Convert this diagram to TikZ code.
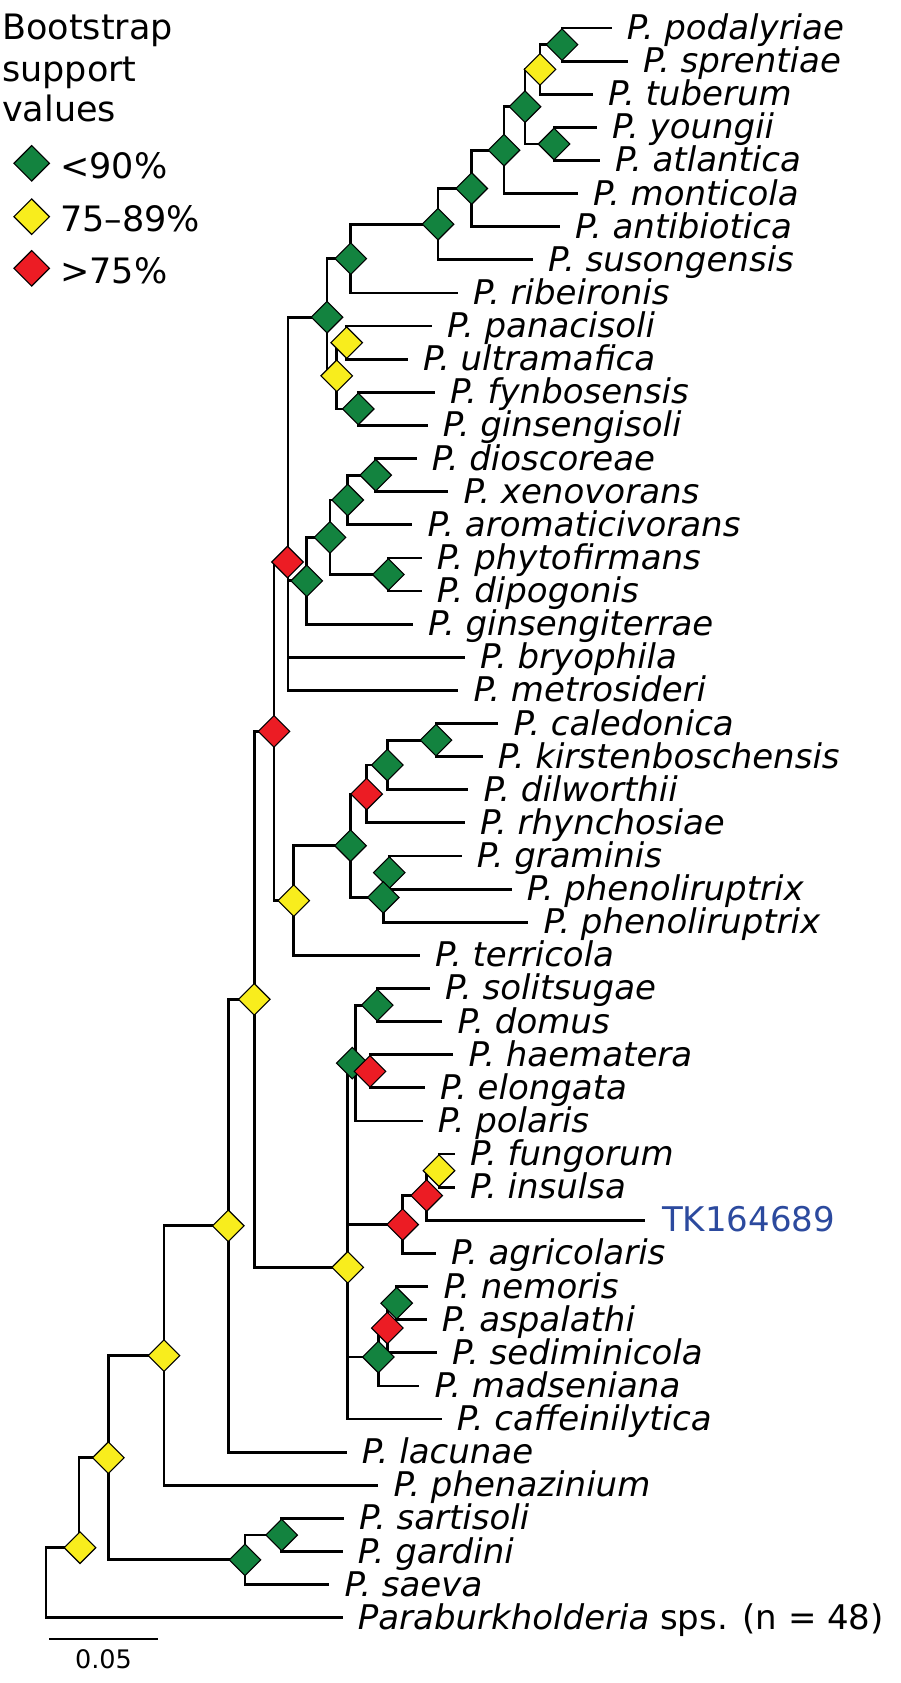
\documentclass[tikz,border=0pt]{standalone}
\usepackage{fontspec}
\setmainfont{DejaVu Sans}
\usetikzlibrary{shapes.geometric}
\definecolor{bsgreen}{RGB}{19,131,63}
\definecolor{bsyellow}{RGB}{248,237,29}
\definecolor{bsred}{RGB}{236,28,36}
\definecolor{tkblue}{RGB}{44,74,158}
\begin{document}
\begin{tikzpicture}[x=1pt,y=-1pt,
  branch/.style={line width=2.8pt, line join=miter},
  bs/.style={shape=diamond, draw=black, line width=1.1pt, inner sep=0pt, minimum width=32pt, minimum height=32pt},
  bsl/.style={shape=diamond, draw=black, line width=1.1pt, inner sep=0pt, minimum width=36pt, minimum height=36pt},
  leaflabel/.style={anchor=base west, inner sep=0pt, xshift=15pt, yshift=-11.5pt, font=\fontsize{34}{36}\selectfont\itshape},
  legtext/.style={anchor=base west, inner sep=0pt, font=\fontsize{35}{41}\selectfont}]
\useasboundingbox (0,0) rectangle (900,1683);

% leaves: index / end x / name
\foreach \i/\xe/\nm in {1/611.7/podalyriae, 2/628/sprentiae, 3/593/tuberum, 4/597/youngii, 5/600/atlantica,
  6/578/monticola, 7/560/antibiotica, 8/533/susongensis, 9/458/ribeironis, 10/432/panacisoli,
  11/408/ultramafica, 12/435/fynbosensis, 13/427.7/ginsengisoli, 14/416.7/dioscoreae, 15/448.3/xenovorans,
  16/412.3/aromaticivorans, 17/421.7/phytofirmans, 18/421.7/dipogonis, 19/413/ginsengiterrae, 20/465/bryophila,
  21/458.3/metrosideri, 22/498.3/caledonica, 23/482.7/kirstenboschensis, 24/468.3/dilworthii, 25/465/rhynchosiae,
  26/461.7/graminis, 27/511.7/phenoliruptrix, 28/528.3/phenoliruptrix, 29/420/terricola, 30/430/solitsugae,
  31/442.3/domus, 32/453.3/haematera, 33/425/elongata, 34/422.7/polaris, 35/455/fungorum,
  36/455/insulsa, 38/436/agricolaris, 39/428.3/nemoris, 40/426.7/aspalathi,
  41/437/sediminicola, 42/419.3/madseniana, 43/441.7/caffeinilytica, 44/346.7/lacunae, 45/378.3/phenazinium,
  46/344/sartisoli, 47/342.7/gardini, 48/329.3/saeva}{
  \pgfmathsetmacro\yy{28+(\i-1)*33.12}
  \coordinate (L\i) at (\xe,\yy);
  \node[leaflabel] (t\i) at (L\i) {P. \nm};
}
\coordinate (L37) at (645,1220.3);
\node[leaflabel, font=\fontsize{34}{36}\selectfont, text=tkblue, xshift=2pt] (t37) at (L37) {TK164689};
\coordinate (L49) at (342.7,1617.8);
\node[leaflabel, font=\fontsize{34}{36}\selectfont] (t49) at (L49) {\textit{Paraburkholderia} sps. (n = 48)};

% internal nodes
\coordinate (a1) at (562,44.6);
\coordinate (a2) at (540,69.4);
\coordinate (a3) at (554,144.0);
\coordinate (a4) at (525,106.7);
\coordinate (a5) at (504,150.2);
\coordinate (a6) at (471.7,188.5);
\coordinate (a7) at (438,224.2);
\coordinate (a8) at (350.7,258.6);
\coordinate (b1) at (346.7,342.7);
\coordinate (b2) at (358.3,408.9);
\coordinate (b3) at (336.7,375.8);
\coordinate (a9) at (327,317.2);
\coordinate (c1) at (375.7,475.2);
\coordinate (c2) at (347.7,500.0);
\coordinate (c3) at (388.3,574.5);
\coordinate (c4) at (330,537.3);
\coordinate (c5) at (306.7,580.8);
\coordinate (d) at (288,562);
\coordinate (e1) at (436,740.1);
\coordinate (e2) at (387.3,765.0);
\coordinate (e3) at (366.7,794.0);
\coordinate (e4) at (389.3,872.6);
\coordinate (e5) at (383.3,897.4);
\coordinate (e6) at (350.5,845.7);
\coordinate (e7) at (293.8,900.6);
\coordinate (f) at (274,731.3);
\coordinate (g1) at (377.3,1005.1);
\coordinate (g2) at (370,1071.3);
\coordinate (g3) at (355.7,1063.1);
\coordinate (h1) at (439,1170.7);
\coordinate (h2) at (426.7,1195.5);
\coordinate (h3) at (402.7,1224.5);
\coordinate (i1) at (396.7,1303.2);
\coordinate (i2) at (387.3,1328.0);
\coordinate (i3) at (378.3,1357.0);
\coordinate (j) at (347.7,1267.3);
\coordinate (k) at (254.3,999.3);
\coordinate (l) at (228.3,1225.8);
\coordinate (m) at (164,1355.6);
\coordinate (n1) at (281.7,1535.0);
\coordinate (n2) at (245,1559.8);
\coordinate (o) at (108.3,1457.7);
\coordinate (p) at (79,1547.7);
\coordinate (root) at (46,1582.8);

% branches
\draw[branch] (a1) |- (L1) (a1) |- (L2)
  (a2) |- (a1) (a2) |- (L3)
  (a3) |- (L4) (a3) |- (L5)
  (a4) |- (a2) (a4) |- (a3)
  (a5) |- (a4) (a5) |- (L6)
  (a6) |- (a5) (a6) |- (L7)
  (a7) |- (a6) (a7) |- (L8)
  (a8) |- (a7) (a8) |- (L9)
  (b1) |- (L10) (b1) |- (L11)
  (b2) |- (L12) (b2) |- (L13)
  (b3) |- (b1) (b3) |- (b2)
  (a9) |- (a8) (a9) |- (b3)
  (c1) |- (L14) (c1) |- (L15)
  (c2) |- (c1) (c2) |- (L16)
  (c3) |- (L17) (c3) |- (L18)
  (c4) |- (c2) (c4) |- (c3)
  (c5) |- (c4) (c5) |- (L19)
  (d) |- (a9) (d) |- (c5) (d) |- (L20) (d) |- (L21)
  (e1) |- (L22) (e1) |- (L23)
  (e2) |- (e1) (e2) |- (L24)
  (e3) |- (e2) (e3) |- (L25)
  (e4) |- (L26) (e4) |- (L27)
  (e5) |- (e4) (e5) |- (L28)
  (e6) |- (e3) (e6) |- (e5)
  (e7) |- (e6) (e7) |- (L29)
  (f) |- (d) (f) |- (e7)
  (g1) |- (L30) (g1) |- (L31)
  (g2) |- (L32) (g2) |- (L33)
  (g3) |- (g1) (g3) |- (g2) (g3) |- (L34)
  (h1) |- (L35) (h1) |- (L36)
  (h2) |- (h1) (h2) |- (L37)
  (h3) |- (h2) (h3) |- (L38)
  (i1) |- (L39) (i1) |- (L40)
  (i2) |- (i1) (i2) |- (L41)
  (i3) |- (i2) (i3) |- (L42)
  (j) |- (g3) (j) |- (h3) (j) |- (i3) (j) |- (L43)
  (k) |- (f) (k) |- (j)
  (l) |- (k) (l) |- (L44)
  (m) |- (l) (m) |- (L45)
  (n1) |- (L46) (n1) |- (L47)
  (n2) |- (n1) (n2) |- (L48)
  (o) |- (m) (o) |- (n2)
  (p) |- (o)
  (root) |- (p) (root) |- (L49);

% support diamonds (top to bottom)
\node[bs, fill=bsgreen] (da1) at (a1) {};
\node[bs, fill=bsyellow] (da2) at (a2) {};
\node[bs, fill=bsgreen] (da4) at (a4) {};
\node[bs, fill=bsgreen] (da3) at (a3) {};
\node[bs, fill=bsgreen] (da5) at (a5) {};
\node[bs, fill=bsgreen] (da6) at (a6) {};
\node[bs, fill=bsgreen] (da7) at (a7) {};
\node[bs, fill=bsgreen] (da8) at (a8) {};
\node[bs, fill=bsgreen] (da9) at (a9) {};
\node[bs, fill=bsyellow] (db1) at (b1) {};
\node[bs, fill=bsyellow] (db3) at (b3) {};
\node[bs, fill=bsgreen] (db2) at (b2) {};
\node[bs, fill=bsgreen] (dc1) at (c1) {};
\node[bs, fill=bsgreen] (dc2) at (c2) {};
\node[bs, fill=bsgreen] (dc4) at (c4) {};
\node[bs, fill=bsred] (dd) at ([xshift=-0.5pt]d) {};
\node[bs, fill=bsgreen] (dc3) at (c3) {};
\node[bs, fill=bsgreen] (dc5) at (c5) {};
\node[bs, fill=bsred] (df) at (f) {};
\node[bs, fill=bsgreen] (de1) at (e1) {};
\node[bs, fill=bsgreen] (de2) at (e2) {};
\node[bs, fill=bsred] (de3) at (e3) {};
\node[bs, fill=bsgreen] (de6) at (e6) {};
\node[bs, fill=bsgreen] (de4) at (e4) {};
\node[bs, fill=bsgreen] (de5) at (e5) {};
\node[bs, fill=bsyellow] (de7) at (e7) {};
\node[bs, fill=bsyellow] (dk) at (k) {};
\node[bs, fill=bsgreen] (dg1) at (g1) {};
\node[bs, fill=bsgreen] (dg3) at ([xshift=-3.5pt]g3) {};
\node[bs, fill=bsred] (dg2) at (g2) {};
\node[bs, fill=bsyellow] (dh1) at (h1) {};
\node[bs, fill=bsred] (dh2) at (h2) {};
\node[bs, fill=bsred] (dh3) at (h3) {};
\node[bs, fill=bsyellow] (dl) at (l) {};
\node[bs, fill=bsyellow] (dj) at (j) {};
\node[bs, fill=bsgreen] (di1) at (i1) {};
\node[bs, fill=bsred] (di2) at (i2) {};
\node[bs, fill=bsgreen] (di3) at (i3) {};
\node[bs, fill=bsyellow] (dm) at (m) {};
\node[bs, fill=bsyellow] (do) at (o) {};
\node[bs, fill=bsgreen] (dn1) at (n1) {};
\node[bs, fill=bsyellow] (dp) at ([xshift=1pt]p) {};
\node[bs, fill=bsgreen] (dn2) at (n2) {};

% legend
\node[legtext] (lg1) at (2,39.3) {Bootstrap};
\node[legtext] (lg2) at (2,81.7) {support};
\node[legtext] (lg3) at (2,121.7) {values};
\node[bsl, fill=bsgreen] (k1) at (31.7,163.3) {};
\node[bsl, fill=bsyellow] (k2) at (31.7,216.7) {};
\node[bsl, fill=bsred] (k3) at (31.7,268.3) {};
\node[legtext] (kt1) at (60,178.3) {<90\%};
\node[legtext] (kt2) at (60,231.7) {75–89\%};
\node[legtext] (kt3) at (60,283.3) {>75\%};

% scale bar
\coordinate (sb1) at (49.3,1639.3);
\coordinate (sb2) at (158.3,1639.3);
\draw[line width=2.2pt] (sb1) -- (sb2);
\node[anchor=base, inner sep=0pt, font=\fontsize{25.5}{28}\selectfont] (sbl) at (103.5,1668) {0.05};
\end{tikzpicture}
\end{document}
